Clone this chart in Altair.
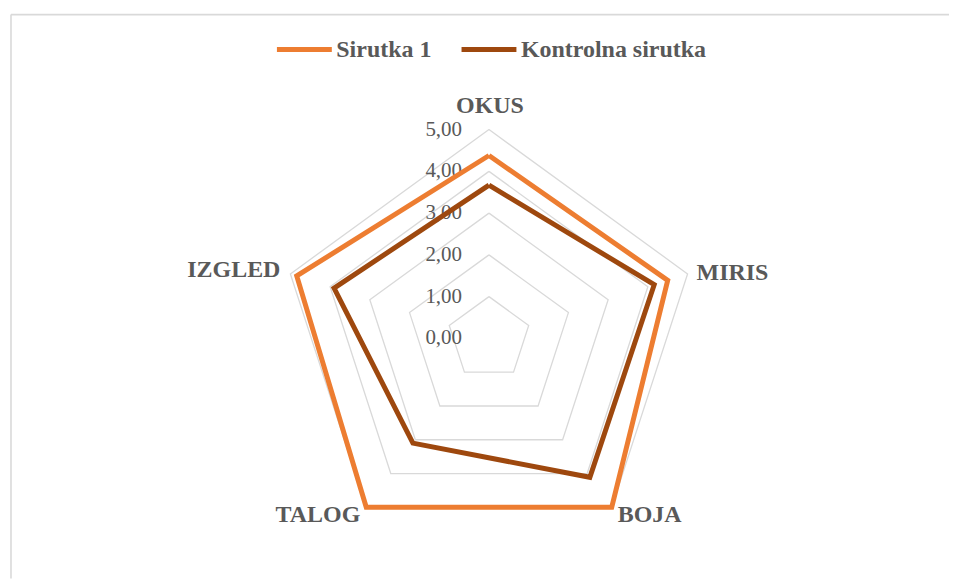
import altair as alt
import pandas as pd

categories = ["OKUS", "MIRIS", "BOJA", "TALOG", "IZGLED"]
series_names = ["Sirutka 1", "Kontrolna sirutka"]
sirutka1 = [4.38, 4.50, 5.00, 5.00, 4.84]
kontrolna = [3.67, 4.16, 4.11, 3.10, 3.90]
levels = [0, 1, 2, 3, 4, 5]
level_labels = ["0,00", "1,00", "2,00", "3,00", "4,00", "5,00"]
colors = ["#ED7D31", "#9E480E"]

FONT = "'Liberation Serif', 'Times New Roman', Times, serif"
N = len(categories)

rows = []
for name, vals in zip(series_names, [sirutka1, kontrolna]):
    for i in range(N + 1):
        rows.append({"series": name, "idx": i, "r": vals[i % N], "cat": categories[i % N]})
series_df = pd.DataFrame(rows)

grid_rows = []
for lv in levels[1:]:
    for i in range(N + 1):
        grid_rows.append({"level": lv, "idx": i, "r": lv})
grid_df = pd.DataFrame(grid_rows)

tick_df = pd.DataFrame({"r": levels, "label": level_labels, "idx": [0] * len(levels)})
cat_df = pd.DataFrame({"cat": categories, "idx": list(range(N)), "r": [5] * N})

W, H = 940, 565
PX = 41.85
cx, cy = 479, 324.5
xdom = [-cx / PX, (W - cx) / PX]
ydom = [(cy - H) / PX, cy / PX]
xs = alt.Scale(domain=xdom, nice=False, zero=False)
ys = alt.Scale(domain=ydom, nice=False, zero=False)

def polar(ch):
    return ch.transform_calculate(
        px=f"datum.r * sin(datum.idx * 2 * PI / {N})",
        py=f"datum.r * cos(datum.idx * 2 * PI / {N})",
    )

X = alt.X("px:Q", scale=xs, axis=None)
Y = alt.Y("py:Q", scale=ys, axis=None)

grid = polar(alt.Chart(grid_df)).mark_line(color="#D9D9D9", strokeWidth=1.3).encode(
    x=X, y=Y, detail="level:N", order="idx:Q"
)

ticks = polar(alt.Chart(tick_df)).mark_text(
    align="right", baseline="middle", dx=-27, font=FONT,
    fontSize=21, color="#595959"
).encode(x=X, y=Y, text="label:N")

lines = polar(alt.Chart(series_df)).mark_line(strokeWidth=5, strokeJoin="miter").encode(
    x=X, y=Y,
    color=alt.Color("series:N", scale=alt.Scale(domain=series_names, range=colors),
                    legend=alt.Legend(title=None, orient="none", legendX=264, legendY=5,
                                      direction="horizontal", symbolType="stroke",
                                      symbolSize=3025, symbolStrokeWidth=5,
                                      labelFont=FONT, labelFontSize=24,
                                      labelFontWeight="bold", labelColor="#595959",
                                      labelOffset=2, labelLimit=400,
                                      columnPadding=19, padding=0)),
    order="idx:Q",
)

def cat_layer(names, align, dx, dy):
    d = cat_df[cat_df["cat"].isin(names)]
    return polar(alt.Chart(d)).mark_text(
        align=align, baseline="middle", dx=dx, dy=dy, font=FONT,
        fontSize=24, fontWeight="bold", color="#595959"
    ).encode(x=X, y=Y, text="cat:N")

labels = (
    cat_layer(["OKUS"], "center", 1, -24)
    + cat_layer(["MIRIS"], "left", 9, -1)
    + cat_layer(["BOJA"], "left", 6, 8)
    + cat_layer(["TALOG"], "right", -6, 8)
    + cat_layer(["IZGLED"], "right", -10, -4)
)

border = alt.Chart(pd.DataFrame({"a": [0]})).mark_rule(color="#D9D9D9", strokeWidth=1.6).encode(
    x=alt.value(0), x2=alt.value(W), y=alt.value(0)
) + alt.Chart(pd.DataFrame({"a": [0]})).mark_rule(color="#D9D9D9", strokeWidth=1.6).encode(
    x=alt.value(0), y=alt.value(0), y2=alt.value(H)
)

chart = alt.layer(border, grid, ticks, labels, lines).properties(
    width=W, height=H, padding={"left": 2, "top": 5, "right": 0, "bottom": 0},
    background="white"
).configure_view(stroke=None)

chart.save("out.html", embed_options={"renderer": "svg", "actions": False})
